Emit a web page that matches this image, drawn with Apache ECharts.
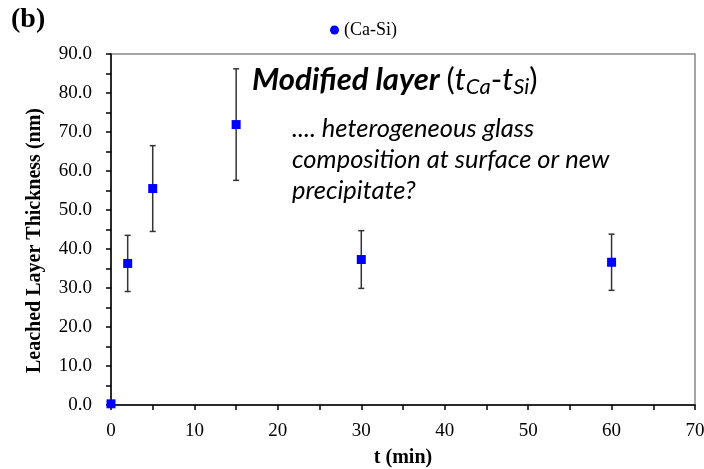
<!DOCTYPE html>
<html><head><meta charset="utf-8">
<script src="https://cdn.jsdelivr.net/npm/echarts@6/dist/echarts.min.js"></script>
<style>html,body{margin:0;padding:0;background:#fff}#c{width:704px;height:469px}</style>
</head><body><div id="c"></div>
<script>
const times = [0, 2, 5, 15, 30, 60];
const thickness = [0.3, 36.3, 55.5, 71.9, 37.3, 36.6];
const errors = [0, 7.2, 11.0, 14.3, 7.4, 7.2];
const seriesName = '(Ca-Si)';
const xTicks = [0, 10, 20, 30, 40, 50, 60, 70];
const yTicks = [0, 10, 20, 30, 40, 50, 60, 70, 80, 90];

const serif = 'Liberation Serif';
const sans = 'Lato';
const chart = echarts.init(document.getElementById('c'), null, {renderer: 'canvas'});

const pts = times.map((t, i) => [t, thickness[i]]);
const errData = times.map((t, i) => [t, thickness[i] - errors[i], thickness[i] + errors[i]]);

chart.setOption({
  animation: false,
  backgroundColor: '#fff',
  grid: {left: 111, right: 9, top: 54, bottom: 64, show: true, borderColor: '#888', borderWidth: 1.5,
         backgroundColor: 'transparent', outerBoundsMode: 'none', containLabel: false},
  legend: {
    data: [{name: seriesName, icon: 'circle'}],
    left: 325, top: 16, itemWidth: 9, itemHeight: 9, itemGap: 5,
    textStyle: {fontFamily: serif, fontSize: 18, color: '#000'}
  },
  xAxis: {
    type: 'value', min: xTicks[0], max: xTicks[xTicks.length - 1], interval: 10,
    name: 't (min)', nameLocation: 'middle', nameGap: 43,
    nameTextStyle: {fontFamily: serif, fontWeight: 'bold', fontSize: 20, color: '#000'},
    axisLine: {show: true, onZero: false, lineStyle: {color: '#000', width: 1.5}},
    axisTick: {show: true, inside: false, length: 5, lineStyle: {color: '#000', width: 1.5}},
    minorTick: {show: true, splitNumber: 2, length: 5, lineStyle: {color: '#000', width: 1.5}},
    splitLine: {show: false},
    axisLabel: {fontFamily: serif, fontSize: 19, color: '#000', margin: 17}
  },
  yAxis: {
    type: 'value', min: yTicks[0], max: yTicks[yTicks.length - 1], interval: 10,
    name: 'Leached Layer Thickness (nm)', nameLocation: 'middle', nameGap: 66,
    nameTextStyle: {fontFamily: serif, fontWeight: 'bold', fontSize: 20, color: '#000', padding: [0, 22, 0, 0]},
    axisLine: {show: true, onZero: false, lineStyle: {color: '#000', width: 1.5}},
    axisTick: {show: true, inside: false, length: 5, lineStyle: {color: '#000', width: 1.5}},
    minorTick: {show: true, splitNumber: 2, length: 5, lineStyle: {color: '#000', width: 1.5}},
    splitLine: {show: false},
    axisLabel: {fontFamily: serif, fontSize: 19, color: '#000', margin: 19, formatter: v => v.toFixed(1)}
  },
  graphic: [
    {type: 'text', left: 11, top: 6, style: {text: '(b)', fontFamily: serif, fontWeight: 'bold', fontSize: 28, fill: '#000'}},
    {type: 'text', left: 252, top: 64, style: {
      text: '{b|Modified layer }{n|(}{i|t}{s|Ca}{n|-}{i|t}{s|Si}{n|)}',
      rich: {
        b: {fontFamily: sans, fontWeight: 'bold', fontStyle: 'italic', fontSize: 31, fill: '#000'},
        n: {fontFamily: sans, fontSize: 31, fill: '#000'},
        i: {fontFamily: sans, fontStyle: 'italic', fontSize: 31, fill: '#000'},
        s: {fontFamily: sans, fontStyle: 'italic', fontSize: 22, fill: '#000', verticalAlign: 'bottom', padding: [15, 0, 0, 0]}
      }
    }},
    {type: 'text', left: 292, top: 113, style: {
      text: '.... heterogeneous glass\ncomposition at surface or new\nprecipitate?',
      fontFamily: sans, fontStyle: 'italic', fontSize: 25.5, lineHeight: 31, fill: '#000'
    }}
  ],
  series: [
    {
      name: 'err', type: 'custom', data: errData, z: 2,
      renderItem: (params, api) => {
        const x = api.value(0);
        const lo = api.coord([x, api.value(1)]);
        const hi = api.coord([x, api.value(2)]);
        const c = 3;
        const st = {stroke: '#333', lineWidth: 1.5};
        return {type: 'group', children: [
          {type: 'line', shape: {x1: lo[0], y1: lo[1], x2: hi[0], y2: hi[1]}, style: st},
          {type: 'line', shape: {x1: lo[0] - c, y1: lo[1], x2: lo[0] + c, y2: lo[1]}, style: st},
          {type: 'line', shape: {x1: hi[0] - c, y1: hi[1], x2: hi[0] + c, y2: hi[1]}, style: st}
        ]};
      }
    },
    {
      name: seriesName, type: 'scatter', data: pts, symbol: 'rect', symbolSize: 9, z: 5,
      itemStyle: {color: '#0000ff', opacity: 1}
    }
  ]
});
</script></body></html>
